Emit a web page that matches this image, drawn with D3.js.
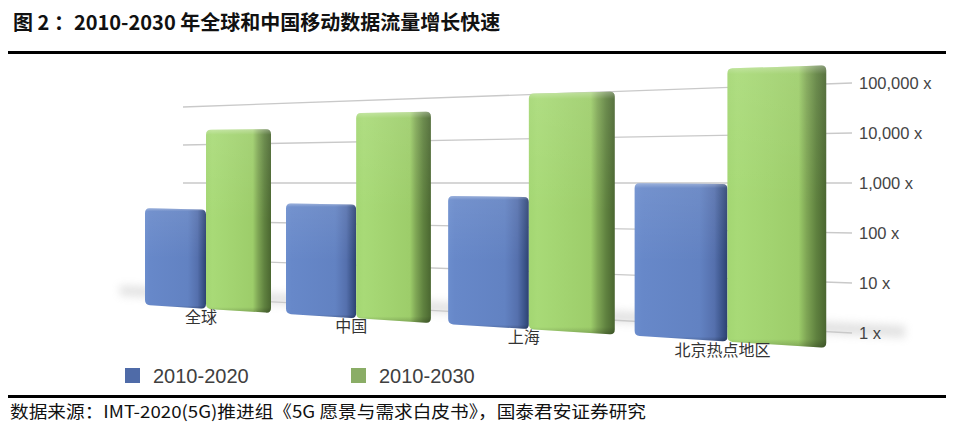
<!DOCTYPE html>
<html><head><meta charset="utf-8">
<script src="https://cdn.jsdelivr.net/npm/d3@7"></script>
<style>body{margin:0;background:#fff} svg{display:block}</style>
</head><body>
<svg id="c" width="954" height="433"></svg>
<script>
// ---- data ----
const categories = ["全球", "中国", "上海", "北京热点地区"];
const series = ["2010-2020", "2010-2030"];
const values2020 = [200, 300, 500, 1000];
const values2030 = [14000, 30000, 65000, 160000];
const tickValues = [1, 10, 100, 1000, 10000, 100000];
const tickLabels = ["1 x", "10 x", "100 x", "1,000 x", "10,000 x", "100,000 x"];
const titleText = "图 2 ：2010-2030 年全球和中国移动数据流量增长快速";
const sourceText = "数据来源：IMT-2020(5G)推进组《5G 愿景与需求白皮书》，国泰君安证券研究";

const svg = d3.select("#c");
const defs = svg.append("defs");

// ---- scales (perspective) ----
const decades = d3.scaleLog().domain([1, 100000]).range([0, 5]);
// back wall gridlines: left end and right end
const wallL = d3.scaleLog().domain([1, 100000]).range([297, 107]);
const wallR = d3.scaleLog().domain([1, 100000]).range([333, 83]);
const wallX = [183, 852];
// horizontal perspective warp for flat band positions
const xBand = d3.scaleBand().domain(categories).range([0, 4]);
const sub = d3.scaleBand().domain(series).range([0, 0.9]);
const warpX = u => 145 + 940 * (Math.pow(1.15, u) - 1);
// bar floor line and decade size vary with x
const base = d3.scaleLinear().domain([145, 638]).range([305, 336]);
const decadePx = d3.scaleLinear().domain([175, 683]).range([42.6, 51.7]);

// ---- gradients ----
function hGrad(id, stops) {
  const g = defs.append("linearGradient").attr("id", id)
    .attr("x1", 0).attr("y1", 0).attr("x2", 1).attr("y2", 0);
  stops.forEach(s => g.append("stop").attr("offset", s[0]).attr("stop-color", s[1]));
}
hGrad("gBlue", [[0, "#6b8dcd"], [0.08, "#6788c9"], [0.7, "#6282c2"], [0.86, "#5570ad"], [0.95, "#3a5388"], [1, "#2c4170"]]);
hGrad("gGreen", [[0, "#a3d672"], [0.1, "#a8da77"], [0.72, "#9dcd6a"], [0.8, "#7fa655"], [0.9, "#5f813f"], [1, "#4a6630"]]);
const vg = defs.append("linearGradient").attr("id", "gTop")
  .attr("x1", 0).attr("y1", 0).attr("x2", 0).attr("y2", 1);
vg.append("stop").attr("offset", 0).attr("stop-color", "#fff").attr("stop-opacity", 0.35);
vg.append("stop").attr("offset", 0.03).attr("stop-color", "#fff").attr("stop-opacity", 0.08);
vg.append("stop").attr("offset", 0.5).attr("stop-color", "#fff").attr("stop-opacity", 0);
vg.append("stop").attr("offset", 0.97).attr("stop-color", "#000").attr("stop-opacity", 0);
vg.append("stop").attr("offset", 1).attr("stop-color", "#000").attr("stop-opacity", 0.2);

const blur = defs.append("filter").attr("id", "blur").attr("x", "-20%").attr("y", "-200%")
  .attr("width", "140%").attr("height", "500%");
blur.append("feGaussianBlur").attr("stdDeviation", 4);

// ---- title ----
svg.append("text").attr("x", 13).attr("y", 30)
  .attr("font-family", "'Noto Sans CJK SC', sans-serif").attr("font-weight", "bold")
  .attr("font-size", 20).attr("fill", "#111").text(titleText);

// rules
svg.append("rect").attr("x", 8).attr("y", 51).attr("width", 938).attr("height", 3).attr("fill", "#000");
svg.append("rect").attr("x", 8).attr("y", 395).attr("width", 938).attr("height", 3).attr("fill", "#000");

// ---- floor shadow ----
const fl = d3.scaleLinear().domain(wallX).range([wallL(1), wallR(1)]);
svg.append("path")
  .attr("d", `M120,${fl(120) - 8} L905,${fl(905) - 10} L905,${fl(905) + 2} L120,${fl(120) + 2} Z`)
  .attr("fill", "#a0a0a0").attr("opacity", 0.3).attr("filter", "url(#blur)");

// ---- gridlines ----
svg.append("g").selectAll("line").data(tickValues).join("line")
  .attr("x1", wallX[0]).attr("x2", wallX[1])
  .attr("y1", d => wallL(d)).attr("y2", d => wallR(d))
  .attr("stroke", "#c9c9c9").attr("stroke-width", 1.3);

// axis labels
svg.append("g").selectAll("text").data(tickValues).join("text")
  .attr("x", 859).attr("y", d => wallR(d))
  .attr("dominant-baseline", "central")
  .attr("font-family", "'Liberation Sans', Arial, sans-serif").attr("font-size", 16.5)
  .attr("fill", "#444").text((d, i) => tickLabels[i]);

// ---- bars ----
const bars = [];
categories.forEach((c, i) => {
  [values2020[i], values2030[i]].forEach((v, j) => {
    const s = series[j];
    const u0 = xBand(c) + sub(s), u1 = u0 + sub.bandwidth();
    bars.push({c, s, v, j, x0: warpX(u0), x1: warpX(u1)});
  });
});
function barPath(b) {
  const {x0, x1} = b;
  const top = x => base(x) - decadePx(x) * decades(b.v);
  const r = 5;
  const t0 = top(x0), t1 = top(x1), b0 = base(x0), b1 = base(x1);
  const tA = top(x0 + r), tB = top(x1 - r), bA = base(x0 + r), bB = base(x1 - r);
  return `M${x0},${t0 + r} Q${x0},${t0} ${x0 + r},${tA} L${x1 - r},${tB} Q${x1},${t1} ${x1},${t1 + r}` +
    ` L${x1},${b1 - r} Q${x1},${b1} ${x1 - r},${bB} L${x0 + r},${bA} Q${x0},${b0} ${x0},${b0 - r} Z`;
}
const gb = svg.append("g");
gb.selectAll("path.bar").data(bars).join("path").attr("class", "bar")
  .attr("d", barPath).attr("fill", d => d.j === 0 ? "url(#gBlue)" : "url(#gGreen)");
gb.selectAll("path.hl").data(bars).join("path").attr("class", "hl")
  .attr("d", barPath).attr("fill", "url(#gTop)");

// category labels
svg.append("g").selectAll("text").data(categories).join("text")
  .attr("x", c => warpX(xBand(c) + sub.step()) - 5)
  .attr("y", c => base(warpX(xBand(c) + sub.step())) + 14)
  .attr("text-anchor", "middle")
  .attr("font-family", "'Noto Sans CJK SC', sans-serif").attr("font-size", 16)
  .attr("fill", "#333").text(c => c);

// ---- legend ----
const legendColors = ["#4f6ba8", "#8aad66"];
const lg = svg.append("g").selectAll("g").data(series).join("g")
  .attr("transform", (d, i) => `translate(${125 + i * 226},368)`);
lg.append("rect").attr("width", 15).attr("height", 15).attr("fill", (d, i) => legendColors[i]);
lg.append("text").attr("x", 28).attr("y", 15)
  .attr("font-family", "'Liberation Sans', Arial, sans-serif").attr("font-size", 20)
  .attr("fill", "#404040").text(d => d);

// ---- source ----
svg.append("text").attr("x", 10).attr("y", 418)
  .attr("font-family", "'Noto Sans CJK SC', sans-serif").attr("font-size", 17)
  .attr("fill", "#111").attr("textLength", 636).attr("lengthAdjust", "spacingAndGlyphs")
  .text(sourceText);
</script>
</body></html>
